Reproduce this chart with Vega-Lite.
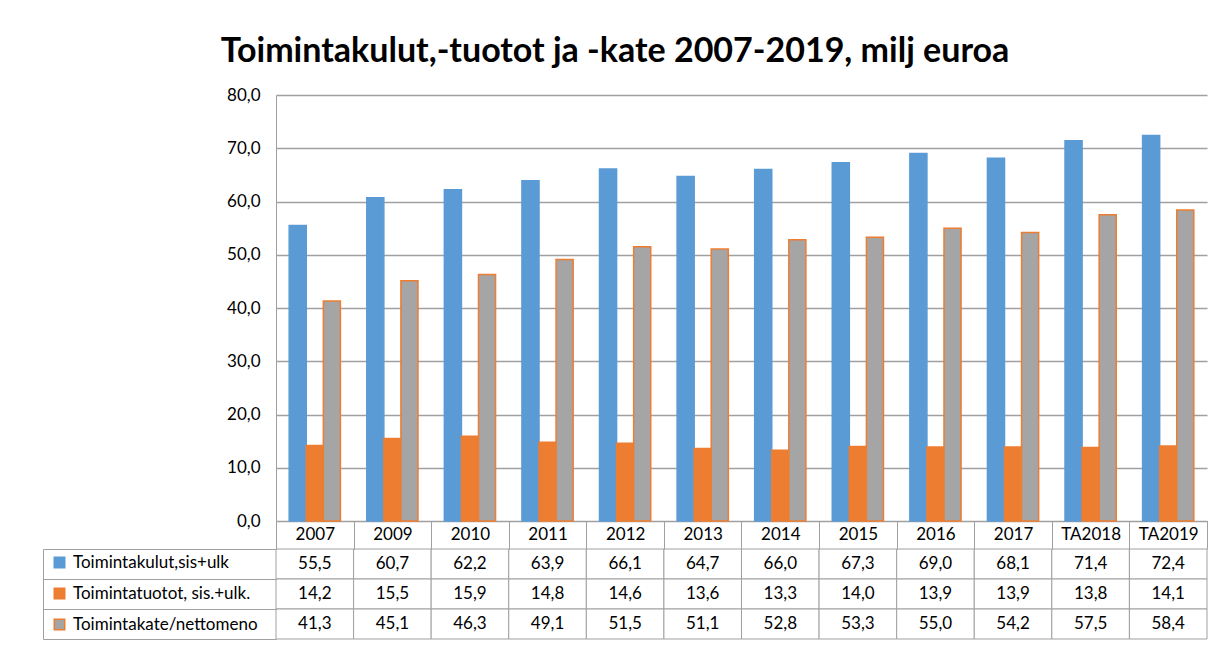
{
  "$schema": "https://vega.github.io/schema/vega-lite/v6.json",
  "background": "white",
  "padding": {"left": 42, "top": 35, "right": 5, "bottom": 5},
  "autosize": {"type": "pad"},
  "title": {"text": "Toimintakulut,-tuotot ja -kate 2007-2019, milj euroa", "font": "Lato", "fontSize": 34, "fontWeight": "bold", "color": "black", "anchor": "middle", "offset": 17, "dx": -10},
  "datasets": {
    "main": [
      {"year": "2007", "series": "Toimintakulut,sis+ulk", "value": 55.5},
      {"year": "2007", "series": "Toimintatuotot, sis.+ulk.", "value": 14.2},
      {"year": "2007", "series": "Toimintakate/nettomeno", "value": 41.3},
      {"year": "2009", "series": "Toimintakulut,sis+ulk", "value": 60.7},
      {"year": "2009", "series": "Toimintatuotot, sis.+ulk.", "value": 15.5},
      {"year": "2009", "series": "Toimintakate/nettomeno", "value": 45.1},
      {"year": "2010", "series": "Toimintakulut,sis+ulk", "value": 62.2},
      {"year": "2010", "series": "Toimintatuotot, sis.+ulk.", "value": 15.9},
      {"year": "2010", "series": "Toimintakate/nettomeno", "value": 46.3},
      {"year": "2011", "series": "Toimintakulut,sis+ulk", "value": 63.9},
      {"year": "2011", "series": "Toimintatuotot, sis.+ulk.", "value": 14.8},
      {"year": "2011", "series": "Toimintakate/nettomeno", "value": 49.1},
      {"year": "2012", "series": "Toimintakulut,sis+ulk", "value": 66.1},
      {"year": "2012", "series": "Toimintatuotot, sis.+ulk.", "value": 14.6},
      {"year": "2012", "series": "Toimintakate/nettomeno", "value": 51.5},
      {"year": "2013", "series": "Toimintakulut,sis+ulk", "value": 64.7},
      {"year": "2013", "series": "Toimintatuotot, sis.+ulk.", "value": 13.6},
      {"year": "2013", "series": "Toimintakate/nettomeno", "value": 51.1},
      {"year": "2014", "series": "Toimintakulut,sis+ulk", "value": 66.0},
      {"year": "2014", "series": "Toimintatuotot, sis.+ulk.", "value": 13.3},
      {"year": "2014", "series": "Toimintakate/nettomeno", "value": 52.8},
      {"year": "2015", "series": "Toimintakulut,sis+ulk", "value": 67.3},
      {"year": "2015", "series": "Toimintatuotot, sis.+ulk.", "value": 14.0},
      {"year": "2015", "series": "Toimintakate/nettomeno", "value": 53.3},
      {"year": "2016", "series": "Toimintakulut,sis+ulk", "value": 69.0},
      {"year": "2016", "series": "Toimintatuotot, sis.+ulk.", "value": 13.9},
      {"year": "2016", "series": "Toimintakate/nettomeno", "value": 55.0},
      {"year": "2017", "series": "Toimintakulut,sis+ulk", "value": 68.1},
      {"year": "2017", "series": "Toimintatuotot, sis.+ulk.", "value": 13.9},
      {"year": "2017", "series": "Toimintakate/nettomeno", "value": 54.2},
      {"year": "TA2018", "series": "Toimintakulut,sis+ulk", "value": 71.4},
      {"year": "TA2018", "series": "Toimintatuotot, sis.+ulk.", "value": 13.8},
      {"year": "TA2018", "series": "Toimintakate/nettomeno", "value": 57.5},
      {"year": "TA2019", "series": "Toimintakulut,sis+ulk", "value": 72.4},
      {"year": "TA2019", "series": "Toimintatuotot, sis.+ulk.", "value": 14.1},
      {"year": "TA2019", "series": "Toimintakate/nettomeno", "value": 58.4}
    ]
  },
  "bounds": "flush",
  "spacing": 28,
  "vconcat": [
    {
      "width": 931,
      "height": 426,
      "data": {"name": "main"},
      "view": {"stroke": null},
      "mark": {"type": "bar", "strokeWidth": 1.5},
      "encoding": {
        "x": {
          "field": "year", "type": "nominal", "sort": null,
          "scale": {"paddingInner": 0.34, "paddingOuter": 0.17},
          "axis": {"title": null, "labels": false, "ticks": false, "domainColor": "#a0a0a0"}
        },
        "xOffset": {
          "field": "series", "type": "nominal",
          "sort": ["Toimintakulut,sis+ulk", "Toimintatuotot, sis.+ulk.", "Toimintakate/nettomeno"],
          "scale": {"paddingInner": 0, "paddingOuter": 0}
        },
        "y": {
          "field": "value", "type": "quantitative",
          "scale": {"domain": [0, 80]},
          "axis": {"title": null, "values": [0, 10, 20, 30, 40, 50, 60, 70, 80], "format": ".1f", "labelFont": "Lato", "labelFontSize": 17, "labelColor": "black", "grid": true, "gridColor": "#a0a0a0", "gridWidth": 1.5, "ticks": false, "labelPadding": 16, "domainColor": "#a0a0a0"}
        },
        "fill": {
          "field": "series", "type": "nominal",
          "scale": {"domain": ["Toimintakulut,sis+ulk", "Toimintatuotot, sis.+ulk.", "Toimintakate/nettomeno"], "range": ["#5B9BD5", "#ED7D31", "#A5A5A5"]},
          "legend": {"title": null, "orient": "none", "legendX": -225, "legendY": 459}
        },
        "stroke": {
          "field": "series", "type": "nominal",
          "scale": {"domain": ["Toimintakulut,sis+ulk", "Toimintatuotot, sis.+ulk.", "Toimintakate/nettomeno"], "range": ["#5B9BD5", "#ED7D31", "#ED7D31"]},
          "legend": {"title": null, "orient": "none", "legendX": -225, "legendY": 459}
        }
      }
    },
    {
      "width": 931,
      "height": 90,
      "data": {"name": "main"},
      "view": {"stroke": null},
      "encoding": {
        "x": {
          "field": "year", "type": "nominal", "sort": null,
          "scale": {"paddingInner": 0, "paddingOuter": 0},
          "axis": {"title": null, "orient": "top", "labelAngle": 0, "labelFont": "Lato", "labelFontSize": 17, "labelColor": "black", "domain": false, "tickColor": "#a0a0a0", "tickBand": "extent", "tickSize": 28, "labelPadding": -22}
        },
        "y": {
          "field": "series", "type": "nominal",
          "sort": ["Toimintakulut,sis+ulk", "Toimintatuotot, sis.+ulk.", "Toimintakate/nettomeno"],
          "scale": {"paddingInner": 0, "paddingOuter": 0},
          "axis": {"title": null, "orient": "left", "offset": 233, "labels": false, "domainColor": "#a0a0a0", "tickColor": "#a0a0a0", "tickBand": "extent", "tickSize": -233}
        }
      },
      "layer": [
        {"mark": {"type": "rect", "fill": "white", "stroke": "#a0a0a0", "strokeWidth": 1}},
        {"mark": {"type": "text", "font": "Lato", "fontSize": 17, "color": "black"}, "encoding": {"text": {"field": "value", "type": "quantitative", "format": ".1f"}}}
      ]
    }
  ],
  "config": {
    "locale": {"number": {"decimal": ",", "thousands": "\u00a0", "grouping": [3], "currency": ["", " €"]}},
    "font": "Lato",
    "legend": {"symbolType": "square", "symbolSize": 110, "symbolStrokeWidth": 1.5, "labelFont": "Lato", "labelFontSize": 17, "labelColor": "black", "labelLimit": 400, "rowPadding": 13, "labelOffset": 5, "padding": 0}
  }
}
